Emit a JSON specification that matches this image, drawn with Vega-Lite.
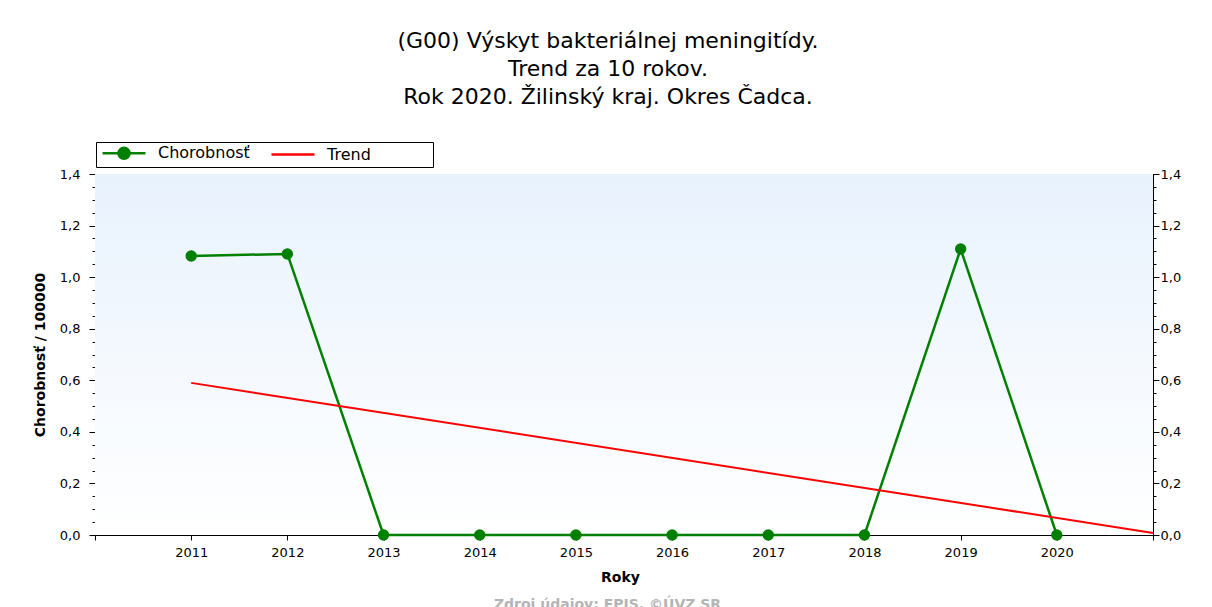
{
  "$schema": "https://vega.github.io/schema/vega-lite/v6.json",
  "width": 1058,
  "height": 361,
  "autosize": "none",
  "padding": {"left": 95, "top": 174, "right": 59, "bottom": 72},
  "background": "white",
  "config": {
    "view": {"stroke": "black", "strokeWidth": 1},
    "font": "DejaVu Sans"
  },
  "title": {
    "text": ["(G00) Výskyt bakteriálnej meningitídy.", "Trend za 10 rokov.", "Rok 2020. Žilinský kraj. Okres Čadca."],
    "font": "DejaVu Sans",
    "fontSize": 22,
    "fontWeight": "normal",
    "color": "black",
    "lineHeight": 28,
    "anchor": "middle",
    "frame": "group",
    "dx": -16,
    "offset": 33
  },
  "datasets": {
    "bg": [{"x0": 2010, "x1": 2021, "y0": 0, "y1": 1.4}],
    "chor": [
      {"year": 2011, "value": 1.082, "series": "Chorobnosť"},
      {"year": 2012, "value": 1.09, "series": "Chorobnosť"},
      {"year": 2013, "value": 0, "series": "Chorobnosť"},
      {"year": 2014, "value": 0, "series": "Chorobnosť"},
      {"year": 2015, "value": 0, "series": "Chorobnosť"},
      {"year": 2016, "value": 0, "series": "Chorobnosť"},
      {"year": 2017, "value": 0, "series": "Chorobnosť"},
      {"year": 2018, "value": 0, "series": "Chorobnosť"},
      {"year": 2019, "value": 1.109, "series": "Chorobnosť"},
      {"year": 2020, "value": 0, "series": "Chorobnosť"}
    ],
    "trend": [
      {"year": 2011, "value": 0.59, "series": "Trend"},
      {"year": 2021, "value": 0.008, "series": "Trend"}
    ]
  },
  "layer": [
    {
      "data": {"name": "bg"},
      "mark": {
        "type": "rect",
        "color": {
          "gradient": "linear", "x1": 0, "y1": 0, "x2": 0, "y2": 1,
          "stops": [{"offset": 0, "color": "#e8f2fd"}, {"offset": 1, "color": "#ffffff"}]
        }
      },
      "encoding": {
        "x": {
          "field": "x0", "type": "quantitative",
          "scale": {"domain": [2010, 2021], "nice": false, "zero": false},
          "axis": {
            "orient": "bottom",
            "values": [2010, 2011, 2012, 2013, 2014, 2015, 2016, 2017, 2018, 2019, 2020, 2021],
            "labelExpr": "datum.value >= 2011 && datum.value <= 2020 ? datum.value : ''",
            "title": "Roky",
            "titleFont": "DejaVu Sans", "titleFontSize": 14, "titleFontWeight": "bold", "titleColor": "black",
            "titlePadding": 11,
            "titleX": 525,
            "labelFont": "DejaVu Sans", "labelFontSize": 13, "labelColor": "black",
            "labelPadding": 6,
            "tickColor": "black", "tickSize": 5, "domainColor": "black", "grid": false
          }
        },
        "x2": {"field": "x1"},
        "y": {
          "field": "y0", "type": "quantitative",
          "scale": {"domain": [0, 1.4], "nice": false, "zero": true},
          "axis": {
            "orient": "left",
            "values": [0, 0.05, 0.1, 0.15, 0.2, 0.25, 0.3, 0.35, 0.4, 0.45, 0.5, 0.55, 0.6, 0.65, 0.7, 0.75, 0.8, 0.85, 0.9, 0.95, 1.0, 1.05, 1.1, 1.15, 1.2, 1.25, 1.3, 1.35, 1.4],
            "labelExpr": "abs(datum.value*5 - round(datum.value*5)) < 0.001 ? replace(format(datum.value, '.1f'), '.', ',') : ''",
            "tickSize": {"condition": {"test": "abs(datum.value*5 - round(datum.value*5)) < 0.001", "value": 6}, "value": 3},
            "title": "Chorobnosť / 100000",
            "titleFont": "DejaVu Sans", "titleFontSize": 14, "titleFontWeight": "bold", "titleColor": "black",
            "titlePadding": 12,
            "labelFont": "DejaVu Sans", "labelFontSize": 13, "labelColor": "black",
            "labelPadding": 9,
            "tickColor": "black", "domainColor": "black", "grid": false
          }
        },
        "y2": {"field": "y1"}
      }
    },
    {
      "data": {"name": "chor"},
      "mark": {"type": "line", "strokeWidth": 2.5, "point": {"filled": true, "size": 130}},
      "encoding": {
        "x": {
          "field": "year", "type": "quantitative",
          "axis": {
            "orient": "bottom",
            "labels": false, "ticks": false, "domain": false, "grid": false,
            "title": "Zdroj údajov: EPIS, ©ÚVZ SR",
            "titleFont": "DejaVu Sans", "titleFontSize": 14, "titleFontWeight": "bold", "titleColor": "#b4b4b4",
            "titlePadding": 62,
            "titleX": 512
          }
        },
        "y": {
          "field": "value", "type": "quantitative",
          "axis": {
            "orient": "right",
            "values": [0, 0.05, 0.1, 0.15, 0.2, 0.25, 0.3, 0.35, 0.4, 0.45, 0.5, 0.55, 0.6, 0.65, 0.7, 0.75, 0.8, 0.85, 0.9, 0.95, 1.0, 1.05, 1.1, 1.15, 1.2, 1.25, 1.3, 1.35, 1.4],
            "labelExpr": "abs(datum.value*5 - round(datum.value*5)) < 0.001 ? replace(format(datum.value, '.1f'), '.', ',') : ''",
            "tickSize": {"condition": {"test": "abs(datum.value*5 - round(datum.value*5)) < 0.001", "value": 6}, "value": 3},
            "title": null,
            "labelFont": "DejaVu Sans", "labelFontSize": 13, "labelColor": "black",
            "labelPadding": 1,
            "tickColor": "black", "domainColor": "black", "grid": false
          }
        },
        "color": {
          "field": "series", "type": "nominal",
          "scale": {"domain": ["Chorobnosť", "Trend"], "range": ["#008000", "#ff0000"]},
          "legend": {
            "orient": "none", "legendX": 1, "legendY": -32,
            "direction": "horizontal", "title": null,
            "strokeColor": "black", "fillColor": "white", "padding": 3, "cornerRadius": 0,
            "labelFont": "DejaVu Sans", "labelFontSize": 16, "labelColor": "black",
            "symbolSize": 100, "symbolOffset": 17, "labelOffset": 26, "columnPadding": 16,
            "labelExpr": "datum.label == 'Trend' ? 'Trend\u2800\u2800\u2800\u2800\u2800' : datum.label",
            "encode": {
              "symbols": {
                "update": {
                  "shape": {"signal": "datum.value === 'Trend' ? 'M-4.3,0H4.3' : 'M-4.3,0H4.3M-1.1,0A1.1,1.1 0 1,0 1.1,0A1.1,1.1 0 1,0 -1.1,0Z'"},
                  "fill": {"signal": "datum.value === 'Trend' ? 'transparent' : '#008000'"},
                  "stroke": {"signal": "datum.value === 'Trend' ? '#ff0000' : '#008000'"},
                  "strokeWidth": {"value": 2.5},
                  "opacity": {"value": 1}
                }
              }
            }
          }
        }
      }
    },
    {
      "data": {"name": "trend"},
      "mark": {"type": "line", "strokeWidth": 2},
      "encoding": {
        "x": {
          "field": "year", "type": "quantitative",
          "axis": {
            "orient": "top",
            "values": [2011, 2012, 2013, 2014, 2015, 2016, 2017, 2018, 2019, 2020],
            "labels": false, "domain": false, "grid": false, "title": null,
            "tickSize": -5, "tickColor": "black"
          }
        },
        "y": {"field": "value", "type": "quantitative", "axis": null},
        "color": {"field": "series", "type": "nominal"}
      }
    }
  ],
  "resolve": {"axis": {"x": "independent", "y": "independent"}}
}
